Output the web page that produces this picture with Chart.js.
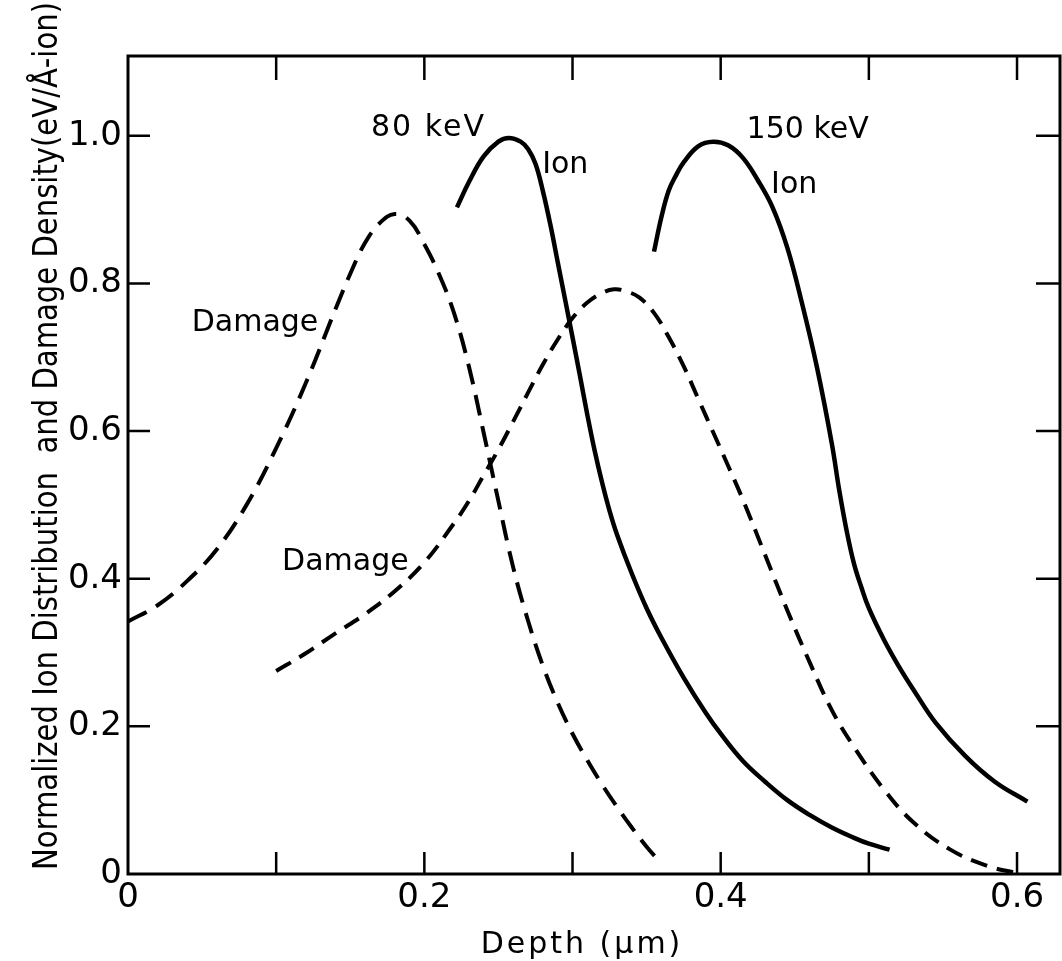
<!DOCTYPE html>
<html>
<head>
<meta charset="utf-8">
<title>Ion and damage depth profiles</title>
<script src="https://cdn.jsdelivr.net/npm/chart.js@4.4.1/dist/chart.umd.min.js"></script>
<style>
    html, body { margin: 0; padding: 0; background: #fff; }
    canvas { display: block; }
</style>
</head>
<body>
<canvas id="chartCanvas" width="1062" height="961"></canvas>
<script>
// depth in um, normalized ion / damage density
const damage80Depth = [0, 0.02, 0.04, 0.06, 0.08, 0.10, 0.12, 0.14, 0.15, 0.16, 0.17, 0.18, 0.19, 0.20, 0.21, 0.22, 0.23, 0.24, 0.25, 0.26, 0.27, 0.28, 0.29, 0.30, 0.31, 0.32, 0.33, 0.34, 0.35, 0.36];
const damage80Value = [0.342, 0.364, 0.397, 0.44, 0.50, 0.577, 0.665, 0.765, 0.813, 0.855, 0.882, 0.894, 0.885, 0.853, 0.812, 0.760, 0.688, 0.598, 0.505, 0.415, 0.343, 0.282, 0.232, 0.190, 0.154, 0.121, 0.091, 0.063, 0.037, 0.014];

const ion80Depth = [0.222, 0.23, 0.24, 0.25, 0.257, 0.265, 0.27, 0.275, 0.28, 0.285, 0.29, 0.30, 0.305, 0.31, 0.315, 0.32, 0.325, 0.33, 0.34, 0.35, 0.36, 0.375, 0.39, 0.40, 0.415, 0.43, 0.445, 0.46, 0.475, 0.49, 0.50, 0.514];
const ion80Value = [0.903, 0.937, 0.972, 0.992, 0.997, 0.992, 0.982, 0.962, 0.925, 0.880, 0.829, 0.727, 0.675, 0.622, 0.573, 0.530, 0.492, 0.460, 0.407, 0.36, 0.32, 0.266, 0.218, 0.19, 0.153, 0.125, 0.10, 0.08, 0.063, 0.049, 0.041, 0.033];

const damage150Depth = [0.10, 0.12, 0.14, 0.16, 0.18, 0.20, 0.22, 0.23, 0.24, 0.25, 0.26, 0.27, 0.28, 0.29, 0.30, 0.31, 0.32, 0.328, 0.335, 0.345, 0.355, 0.365, 0.375, 0.385, 0.395, 0.405, 0.415, 0.43, 0.445, 0.46, 0.475, 0.49, 0.51, 0.53, 0.555, 0.58, 0.60];
const damage150Value = [0.275, 0.299, 0.326, 0.352, 0.383, 0.422, 0.475, 0.505, 0.54, 0.575, 0.613, 0.652, 0.690, 0.724, 0.753, 0.774, 0.787, 0.792, 0.790, 0.781, 0.760, 0.727, 0.688, 0.643, 0.598, 0.553, 0.507, 0.432, 0.357, 0.287, 0.222, 0.172, 0.115, 0.07, 0.033, 0.011, 0.001];

const ion150Depth = [0.355, 0.36, 0.365, 0.37, 0.375, 0.385, 0.395, 0.405, 0.415, 0.425, 0.435, 0.445, 0.455, 0.465, 0.475, 0.48, 0.485, 0.49, 0.495, 0.50, 0.51, 0.52, 0.53, 0.545, 0.565, 0.585, 0.607];
const ion150Value = [0.843, 0.89, 0.926, 0.947, 0.964, 0.986, 0.992, 0.987, 0.97, 0.94, 0.903, 0.848, 0.772, 0.686, 0.583, 0.52, 0.465, 0.42, 0.388, 0.36, 0.318, 0.282, 0.25, 0.205, 0.16, 0.125, 0.098];

// text labels placed in data units: [text, depth, value]
const curveLabels = [
    ['80 keV', 0.164, 0.999],
    ['Ion', 0.2795, 0.950],
    ['150 keV', 0.4175, 0.997],
    ['Ion', 0.434, 0.922],
    ['Damage', 0.043, 0.735],
    ['Damage', 0.104, 0.412]
];

const xTitle = 'Depth (\u03bcm)';
const yTitle = 'Normalized Ion Distribution  and Damage Density(eV/\u00c5-ion)';

function toPoints(xs, ys) {
    return xs.map((x, i) => ({ x: x, y: ys[i] }));
}

function curve(xs, ys, dash, width) {
    return {
        data: toPoints(xs, ys),
        borderColor: '#000',
        borderWidth: width,
        borderDash: dash,
        borderCapStyle: 'butt',
        pointRadius: 0,
        fill: false,
        tension: 0.4
    };
}

// frame, inward ticks, curve labels and axis titles
const decorations = {
    id: 'decorations',
    afterDraw(chart) {
        const ctx = chart.ctx;
        const area = chart.chartArea;
        const xs = chart.scales.x;
        const ys = chart.scales.y;
        ctx.save();
        ctx.strokeStyle = '#000';
        ctx.lineWidth = 3;
        ctx.strokeRect(area.left, area.top, area.right - area.left, area.bottom - area.top);

        ctx.lineWidth = 2.5;
        ctx.beginPath();
        for (let i = 1; i <= 6; i++) {
            const px = xs.getPixelForValue(i / 10);
            ctx.moveTo(px, area.bottom);
            ctx.lineTo(px, area.bottom - 22);
            ctx.moveTo(px, area.top);
            ctx.lineTo(px, area.top + 24);
        }
        for (let i = 1; i <= 5; i++) {
            const py = ys.getPixelForValue(i / 5);
            ctx.moveTo(area.left, py);
            ctx.lineTo(area.left + 22, py);
            ctx.moveTo(area.right, py);
            ctx.lineTo(area.right - 24, py);
        }
        ctx.stroke();

        ctx.fillStyle = '#000';
        ctx.font = '30px "DejaVu Sans"';
        ctx.textAlign = 'left';
        ctx.textBaseline = 'alphabetic';
        curveLabels.forEach(l => {
            ctx.letterSpacing = l[0] === '80 keV' ? '2px' : '0px';
            ctx.fillText(l[0], xs.getPixelForValue(l[1]), ys.getPixelForValue(l[2]));
        });

        // x axis title
        ctx.textAlign = 'center';
        ctx.letterSpacing = '3px';
        ctx.fillText(xTitle, 582, 953);
        ctx.letterSpacing = '0px';

        // y axis title, squeezed to run the height of the figure
        ctx.font = '33px "DejaVu Sans"';
        ctx.translate(57, 436);
        ctx.rotate(-Math.PI / 2);
        const w = ctx.measureText(yTitle).width;
        ctx.scale(868 / w, 1);
        ctx.fillText(yTitle, 0, 0);
        ctx.restore();
    }
};

const ctx = document.getElementById('chartCanvas').getContext('2d');

let chart = new Chart(ctx, {
    type: 'line',
    data: {
        datasets: [
            curve(damage80Depth, damage80Value, [21, 11], 4),
            curve(ion80Depth, ion80Value, [], 4.5),
            curve(damage150Depth, damage150Value, [17, 10], 4),
            curve(ion150Depth, ion150Value, [], 4.5)
        ]
    },
    options: {
        responsive: false,
        animation: false,
        devicePixelRatio: 1,
        layout: { padding: { top: 56, right: 2, left: 0, bottom: 0 } },
        plugins: {
            legend: { display: false },
            tooltip: { enabled: false }
        },
        scales: {
            x: {
                type: 'linear',
                min: 0,
                max: 0.629,
                grid: { display: false, drawTicks: false },
                border: { display: false },
                ticks: {
                    stepSize: 0.2,
                    includeBounds: false,
                    autoSkip: false,
                    maxRotation: 0,
                    padding: 4,
                    color: '#000',
                    font: { family: 'DejaVu Sans', size: 34 },
                    callback: v => (v === 0 ? '0' : v.toFixed(1))
                },
                afterFit: scale => { scale.height = 87; }
            },
            y: {
                type: 'linear',
                min: 0,
                max: 1.108,
                grid: { display: false, drawTicks: false },
                border: { display: false },
                ticks: {
                    stepSize: 0.2,
                    includeBounds: false,
                    padding: 6,
                    color: '#000',
                    font: { family: 'DejaVu Sans', size: 34 },
                    callback: v => (v === 0 ? '0' : v.toFixed(1))
                },
                afterFit: scale => { scale.width = 128; }
            }
        }
    },
    plugins: [decorations]
});
</script>
</body>
</html>
